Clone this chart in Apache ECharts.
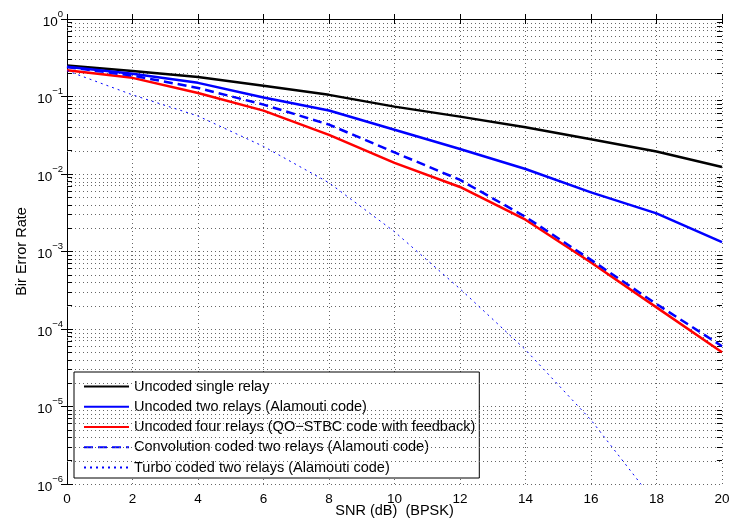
<!DOCTYPE html>
<html>
<head>
<meta charset="utf-8">
<script src="https://cdn.jsdelivr.net/npm/echarts@6/dist/echarts.min.js"></script>
<style>html,body{margin:0;padding:0;background:#fff}#c{width:731px;height:524px}</style>
</head>
<body>
<div id="c"></div>
<script>
var snr = [0, 2, 4, 6, 8, 10, 12, 14, 16, 18, 20];
var uncodedSingle = [0.251, 0.214, 0.178, 0.138, 0.105, 0.074, 0.055, 0.040, 0.028, 0.0195, 0.0123];
var uncodedTwo = [0.242, 0.196, 0.150, 0.097, 0.066, 0.0373, 0.021, 0.0116, 0.0058, 0.0031, 0.00132];
var uncodedFour = [0.218, 0.174, 0.111, 0.0657, 0.032, 0.0139, 0.0068, 0.00257, 0.00072, 0.00019, 0.00005];
var convTwo = [0.240, 0.186, 0.129, 0.0786, 0.0434, 0.019, 0.0084, 0.0028, 0.00078, 0.00021, 0.00006];
var turboTwo = [0.215, 0.105, 0.056, 0.0227, 0.0077, 0.0018, 0.00033, 0.000054, 0.0000067, 0.00000055];
var seriesNames = [
  'Uncoded single relay',
  'Uncoded two relays (Alamouti code)',
  'Uncoded four relays (QO\u2212STBC code with feedback)',
  'Convolution coded two relays (Alamouti code)',
  'Turbo coded two relays (Alamouti code)'
];
var xTicks = [0, 2, 4, 6, 8, 10, 12, 14, 16, 18, 20];
var yDecades = [-6, -5, -4, -3, -2, -1, 0];

function pairs(ys) { return ys.map(function (y, i) { return [snr[i], y]; }); }

// minor grid lines and minor ticks at 2..9 x 10^k, placed on a hidden linear axis of log10 values
var minorGrid = [];
var minorTicks = [];
var tickLen = 0.155; // x units (~5px)
for (var k = -6; k <= -1; k++) {
  for (var m = 2; m <= 9; m++) {
    var lv = Math.log10(m * Math.pow(10, k));
    minorGrid.push({ yAxis: lv });
    minorTicks.push([{ coord: [0, lv] }, { coord: [tickLen, lv] }]);
    minorTicks.push([{ coord: [20 - tickLen, lv] }, { coord: [20, lv] }]);
  }
}
var dotted = { color: '#666', width: 1, type: [1, 3] };
var font = 'Liberation Sans, Arial, Helvetica, sans-serif';

var chart = echarts.init(document.getElementById('c'));
chart.setOption({
  animation: false,
  backgroundColor: '#fff',
  textStyle: { fontFamily: font },
  grid: { left: 67, right: 9, top: 19, bottom: 40, containLabel: false, outerBoundsMode: 'none' },
  legend: {
    orient: 'vertical', left: 74, top: 372,
    padding: [7, 4, 3, 9], itemGap: 5.25, itemWidth: 45, itemHeight: 14,
    itemStyle: { opacity: 0, color: 'rgba(0,0,0,0)', borderWidth: 0 },
    backgroundColor: '#fff', borderColor: '#000', borderWidth: 1,
    textStyle: { fontFamily: font, fontSize: 14.5, color: '#000' },
    data: seriesNames
  },
  xAxis: [{
    type: 'value', min: 0, max: 20, interval: 2, position: 'bottom',
    name: 'SNR (dB)  (BPSK)', nameLocation: 'middle', nameGap: 19, nameMoveOverlap: false,
    nameTextStyle: { fontFamily: font, fontSize: 14.5, color: '#000', verticalAlign: 'top' },
    axisLine: { lineStyle: { color: '#000', width: 1 } },
    axisTick: { inside: true, length: 5, lineStyle: { color: '#000' } },
    axisLabel: { margin: 8, fontSize: 13.5, color: '#000', fontFamily: font,
      formatter: function (v) { return xTicks.indexOf(v) >= 0 ? String(v) : ''; } },
    splitLine: { show: true, lineStyle: dotted }
  }, {
    type: 'value', min: 0, max: 20, interval: 2, position: 'top',
    axisLine: { show: true, lineStyle: { color: '#000', width: 1 } },
    axisTick: { show: true, inside: true, length: 5, lineStyle: { color: '#000' } },
    axisLabel: { show: false }, splitLine: { show: false }
  }],
  yAxis: [{
    type: 'log', logBase: 10, min: 1e-6, max: 1, splitNumber: 6, position: 'left',
    name: 'Bir Error Rate', nameLocation: 'middle', nameGap: 38, nameRotate: 90, nameMoveOverlap: false,
    nameTextStyle: { fontFamily: font, fontSize: 14.5, color: '#000' },
    axisLine: { show: true, lineStyle: { color: '#000', width: 1 } },
    axisTick: { show: true, inside: true, length: 6, lineStyle: { color: '#000' } },
    axisLabel: {
      margin: 4, color: '#000', fontFamily: font,
      formatter: function (v) {
        var e = Math.round(Math.log10(v));
        if (yDecades.indexOf(e) < 0) return '';
        return '{b|10}{s|' + (e < 0 ? '\u2212' + (-e) : e) + '}';
      },
      rich: {
        b: { fontSize: 13.5, fontFamily: font, color: '#000', verticalAlign: 'bottom', padding: [6, 0, 0, 0] },
        s: { fontSize: 9.5, fontFamily: font, color: '#000', verticalAlign: 'top', padding: [0, 0, 6, 0] }
      }
    },
    splitLine: { show: true, lineStyle: dotted }
  }, {
    type: 'log', logBase: 10, min: 1e-6, max: 1, splitNumber: 6, position: 'right',
    axisLine: { show: true, lineStyle: { color: '#000', width: 1 } },
    axisTick: { show: true, inside: true, length: 6, lineStyle: { color: '#000' } },
    axisLabel: { show: false }, splitLine: { show: false }
  }, {
    type: 'value', min: -6, max: 0, show: false
  }],
  series: [{
    name: 'minor-grid', type: 'line', data: [], yAxisIndex: 2, silent: true, z: 1,
    markLine: { silent: true, symbol: ['none', 'none'], label: { show: false },
      lineStyle: dotted, emphasis: { disabled: true }, data: minorGrid }
  }, {
    name: 'minor-ticks', type: 'line', data: [], yAxisIndex: 2, silent: true, z: 7,
    markLine: { silent: true, symbol: ['none', 'none'], label: { show: false },
      lineStyle: { color: '#000', width: 1, type: 'solid' }, emphasis: { disabled: true }, data: minorTicks }
  }, {
    name: seriesNames[0], type: 'line', data: pairs(uncodedSingle), symbol: 'none',
    lineStyle: { color: '#000', width: 2.5 }, itemStyle: { color: '#000' }, z: 5
  }, {
    name: seriesNames[1], type: 'line', data: pairs(uncodedTwo), symbol: 'none',
    lineStyle: { color: '#0000ff', width: 2.5 }, itemStyle: { color: '#0000ff' }, z: 5
  }, {
    name: seriesNames[2], type: 'line', data: pairs(uncodedFour), symbol: 'none',
    lineStyle: { color: '#ff0000', width: 2.5 }, itemStyle: { color: '#ff0000' }, z: 5
  }, {
    name: seriesNames[3], type: 'line', data: pairs(convTwo), symbol: 'none',
    lineStyle: { color: '#0000ff', width: 2.5, type: [9, 5] }, itemStyle: { color: '#0000ff' }, z: 6
  }, {
    name: seriesNames[4], type: 'line', data: pairs(turboTwo), symbol: 'none', clip: true,
    lineStyle: { color: '#0000ff', width: 1, type: [2, 4] }, itemStyle: { color: '#0000ff' }, z: 5
  }]
});
</script>
</body>
</html>
